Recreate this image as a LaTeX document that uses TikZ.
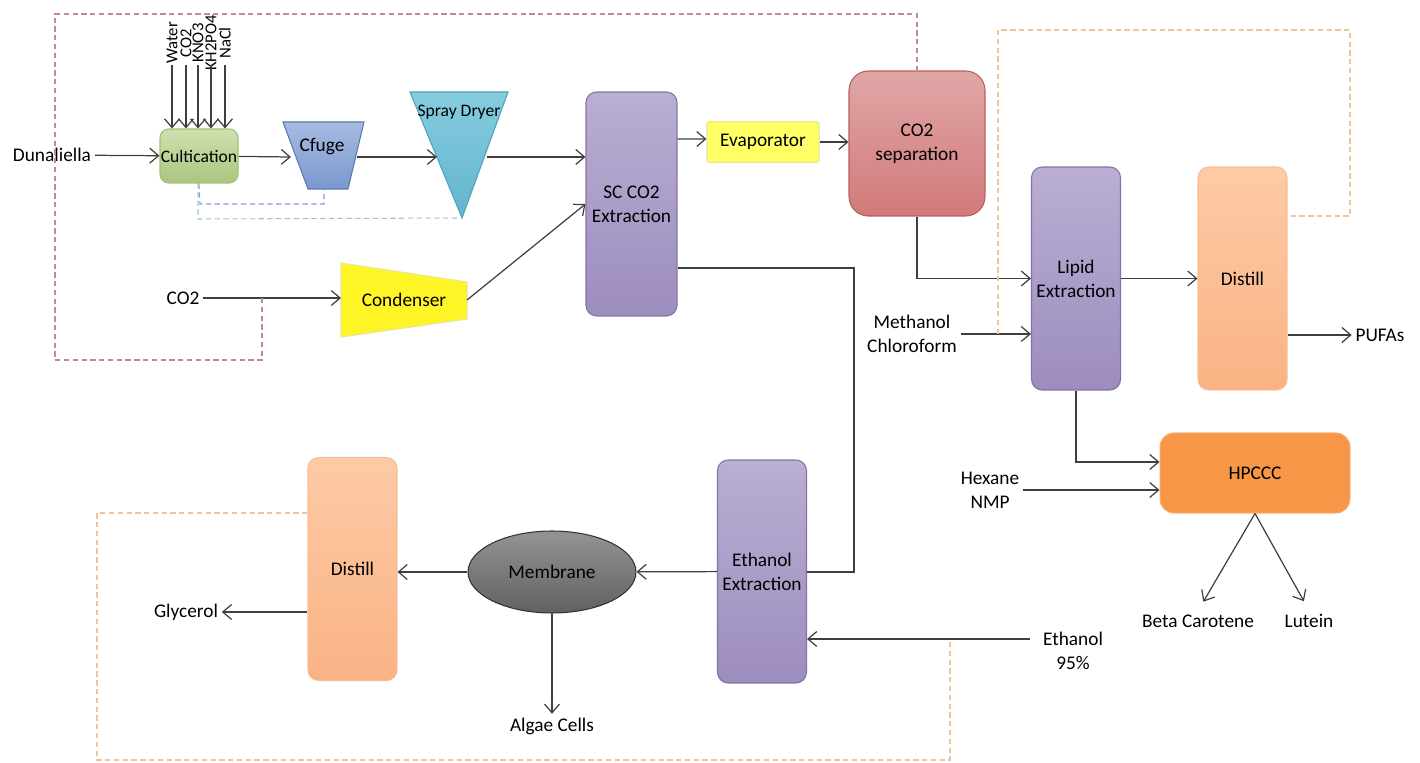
\documentclass[tikz,border=0pt]{standalone}
\usepackage{fontspec}
\setmainfont{Carlito}
\usetikzlibrary{arrows.meta,positioning,shapes.geometric}

\definecolor{wire}{HTML}{3F3F3F}
\definecolor{purptop}{HTML}{BAAED2}
\definecolor{purpbot}{HTML}{9C8DBF}
\definecolor{purpline}{HTML}{8373A8}
\definecolor{peachtop}{HTML}{FDCBA6}
\definecolor{peachbot}{HTML}{FAB284}
\definecolor{peachline}{HTML}{F6BE98}
\definecolor{rosetop}{HTML}{E0A6A6}
\definecolor{rosebot}{HTML}{D27A7A}
\definecolor{roseline}{HTML}{B65E5E}
\definecolor{greentop}{HTML}{CFE0AE}
\definecolor{greenbot}{HTML}{AAC67F}
\definecolor{greenline}{HTML}{A3C077}
\definecolor{hpcccfill}{HTML}{F79646}
\definecolor{hpcccline}{HTML}{F9AC70}
\definecolor{lemon}{HTML}{FFFF66}
\definecolor{lemonline}{HTML}{E6E699}
\definecolor{cfugetop}{HTML}{A7BBE2}
\definecolor{cfugebot}{HTML}{7A98CF}
\definecolor{cfugeline}{HTML}{5B79B1}
\definecolor{spraytop}{HTML}{86CCDF}
\definecolor{spraybot}{HTML}{62B5CD}
\definecolor{sprayline}{HTML}{4DA2BA}
\definecolor{loopred}{HTML}{C48893}
\definecolor{loopblue}{HTML}{7F9DCB}
\definecolor{loopteal}{HTML}{9CC3D3}
\definecolor{looporange}{HTML}{EEC49A}

\tikzset{
    flow/.style={draw=wire, line width=0.7pt, -{Straight Barb[length=5pt,width=8.5pt]}},
    pipe/.style={draw=wire, line width=0.7pt},
    recycle/.style={draw=#1, line width=0.6pt, dash pattern=on 3pt off 2pt},
    unit/.style={rounded corners=6pt, line width=0.6pt, align=center, inner sep=2pt},
    column/.style={unit, minimum width=1.78cm, minimum height=4.46cm},
    purplecol/.style={column, draw=purpline, top color=purptop, bottom color=purpbot},
    peachcol/.style={column, draw=peachline, top color=peachtop, bottom color=peachbot},
    feed/.style={rotate=90, inner sep=0pt, font=\fontsize{9.5}{11}\selectfont},
    stream/.style={align=center, inner sep=2pt},
}

\begin{document}
\begin{tikzpicture}[x=0.02cm, y=-0.02cm, font=\fontsize{11}{13.6}\selectfont]
    \useasboundingbox (0,0) rectangle (1420,763);

    % process units
    \node[unit, draw=greenline, top color=greentop, bottom color=greenbot, inner sep=0pt,
        font=\fontsize{10}{12}\selectfont,
        minimum width=1.56cm, minimum height=1.08cm, rounded corners=5pt] (cult) at (199,156) {Cultication};
    \node[purplecol, minimum width=1.82cm, minimum height=4.48cm] (sccotwo) at (631.5,204) {SC CO2\\Extraction};
    \node[unit, draw=lemonline, fill=lemon, rounded corners=1pt,
        minimum width=2.24cm, minimum height=0.82cm] (evap) at (763,142) {Evaporator};
    \node[unit, draw=roseline, top color=rosetop, bottom color=rosebot, rounded corners=11pt,
        minimum width=2.72cm, minimum height=2.9cm] (cosep) at (917,143.5) {CO2\\separation};
    \node[purplecol] (lipid) at (1076,278.5) {Lipid\\Extraction};
    \node[peachcol] (distA) at (1242.5,278.5) {Distill};
    \node[unit, draw=hpcccline, fill=hpcccfill, rounded corners=8pt,
        minimum width=3.8cm, minimum height=1.6cm] (hpccc) at (1255,473) {HPCCC};
    \node[purplecol] (ethex) at (762,571.5) {Ethanol\\Extraction};
    \node[ellipse, draw=black!80, line width=0.6pt, top color=black!42, bottom color=black!62,
        minimum width=3.36cm, minimum height=1.64cm] (memb) at (552,572) {Membrane};
    \node[peachcol] (distB) at (352.5,569) {Distill};

    % shaped units
    \draw[draw=cfugeline, line width=0.6pt, top color=cfugetop, bottom color=cfugebot]
        (283,122) -- (364,122) -- (348,189) -- (308,189) -- cycle;
    \node (cfuge) at (322,147) {Cfuge};
    \draw[draw=sprayline, line width=0.6pt, top color=spraytop, bottom color=spraybot]
        (410,92) -- (508,92) -- (462,218) -- cycle;
    \node[font=\fontsize{10}{12}\selectfont] (spray) at (459,112) {Spray Dryer};
    \draw[draw=lemonline, line width=0.6pt, fill=yellow!85]
        (341,263) -- (467,282) -- (467,319) -- (341,337) -- cycle;
    \node (cond) at (404,300) {Condenser};

    \coordinate (cfugeW) at (291,157);
    \coordinate (cfugeE) at (357,157);
    \coordinate (cfugeB) at (324,189);
    \coordinate (sprayW) at (437,157);
    \coordinate (sprayE) at (487,157);
    \coordinate (sprayB) at (462,218);
    \coordinate (condW) at (341,298);
    \coordinate (condE) at (467,300);

    % feeds and products
    \node[stream] (dun) at (52,155) {Dunaliella};
    \node[stream] (cotwoin) at (183,298) {CO2};
    \node[stream] (methanol) at (912,334) {Methanol\\Chloroform};
    \node[stream] (pufa) at (1380,335) {PUFAs};
    \node[stream] (hexane) at (990,490) {Hexane\\NMP};
    \node[stream] (beta) at (1198,621) {Beta Carotene};
    \node[stream] (lutein) at (1309,621) {Lutein};
    \node[stream] (ethin) at (1073,651) {Ethanol\\95\%};
    \node[stream] (algae) at (552,726) {Algae Cells};
    \node[stream] (glyc) at (186,612) {Glycerol};
    \coordinate (ethsrc) at (1030,639);
    \coordinate (bend) at (854,572);

    \foreach \x/\chem [count=\i] in {172/Water,186/CO2,198/KNO3,211/KH2PO4,225/NaCl} {
        \node[feed] (feed\i) at (\x,43) {\chem};
        \draw[flow] (feed\i |- 0,65) -- (feed\i |- cult.north);
    }

    % main streams
    \draw[flow] (dun) -- (cult);
    \draw[flow] (cult) -- (cfugeW);
    \draw[flow] (cfugeE) -- (sprayW);
    \draw[flow] (sprayE) -- (sccotwo.west |- sprayE);
    \draw[flow] (cotwoin) -- (condW);
    \draw[flow] (condE) -- (sccotwo.west);
    \draw[flow] ([yshift=1.3cm]sccotwo.east) -- ([yshift=0.06cm]evap.west);
    \draw[flow] (evap) -- (cosep.west |- evap);
    \draw[flow] (cosep) |- (lipid.west);
    \draw[flow] (methanol.east) -- (lipid.west |- methanol);
    \draw[flow] (lipid) -- (distA);
    \draw[flow] (distA.east |- pufa) -- (pufa);
    \draw[flow] (lipid) |- ([yshift=0.22cm]hpccc.west);
    \draw[flow] (hexane) -- (hpccc.west |- hexane);
    \draw[flow, shorten >=6pt] (hpccc.south) -- (beta.north);
    \draw[flow, shorten >=6pt] (hpccc.south) -- (lutein.north);
    \draw[pipe] ([yshift=-1.28cm]sccotwo.east) -| (bend) -- (ethex.east |- bend);
    \draw[flow] (ethsrc) -- (ethex.east |- ethsrc);
    \draw[flow] (ethex) -- (memb);
    \draw[flow] (memb) -- (distB.east |- memb);
    \draw[flow] (memb) -- (algae);
    \draw[flow] (distB.west |- glyc) -- (glyc);

    % recycle loops
    \draw[recycle=loopred] (cotwoin -| 262,0) -- (262,360) -- (55,360) -- (55,14) -- (917,14) -- (cosep.north);
    \draw[recycle=loopblue] (cult.south) -- (200,204) -| (cfugeB);
    \draw[recycle=loopteal] (198,183) -- (198,219) -- (sprayB);
    \draw[recycle=looporange] (998,334) -- (998,30) -- (1350,30) -- (1350,216) -- (distA.east |- 0,216);
    \draw[recycle=looporange] (distB.west |- 0,513) -- (97,513) -- (97,760) -- (950,760) -- (950,639);
\end{tikzpicture}
\end{document}
